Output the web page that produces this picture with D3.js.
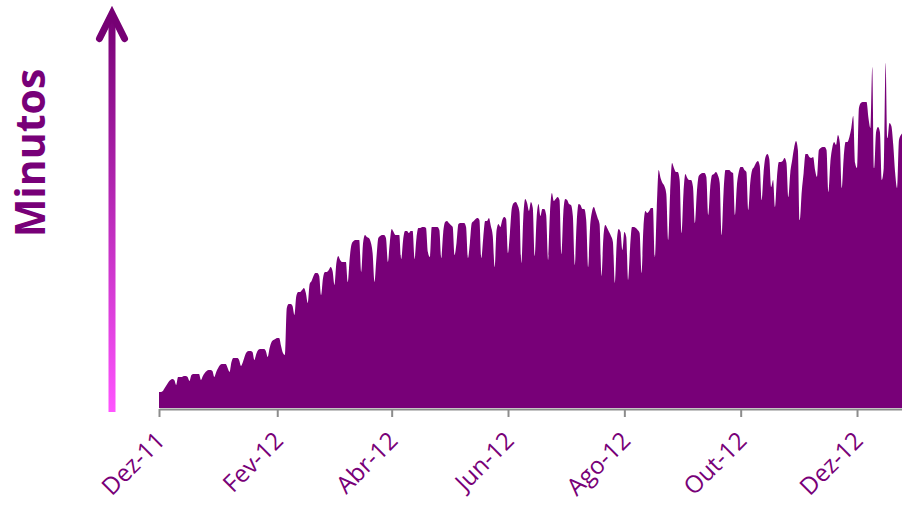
<!DOCTYPE html>
<html>
<head>
<meta charset="utf-8">
<script src="https://cdn.jsdelivr.net/npm/d3@7"></script>
<style>
  html, body { margin: 0; padding: 0; background: #fff; }
  svg { display: block; }
</style>
</head>
<body>
<div id="chart"></div>
<script>
// daily minutes, starting Thu 1 Dec 2011 (rows of 7 days)
var startDate = Date.UTC(2011, 11, 1);
var minutes = [
   16,  16,  17,  20,  23,  26,  28,
   29,  28,  23,  31,  31,  31,  32,
   32,  31,  27,  33,  34,  34,  34,
   34,  28,  32,  35,  37,  38,  38,
   37,  31,  36,  40,  43,  44,  44,
   44,  40,  36,  46,  50,  50,  50,
   48,  42,  46,  52,  56,  57,  57,
   56,  48,  54,  58,  59,  59,  59,
   57,  51,  60,  66,  68,  69,  70,
   70,  62,  55,  53, 100, 104, 104,
  102,  93, 112, 116, 116, 118, 120,
  115, 105, 124, 127, 132, 135, 135,
  132, 113, 130, 136, 136, 138, 141,
  137, 123, 145, 152, 148, 146, 146,
  146, 126, 150, 164, 167, 168, 168,
  168, 136, 165, 173, 171, 170, 166,
  155, 126, 150, 170, 172, 173, 173,
  170, 146, 165, 179, 176, 173, 173,
  173, 149, 168, 177, 177, 175, 177,
  177, 149, 170, 180, 180, 181, 181,
  180, 156, 151, 181, 181, 181, 181,
  178, 150, 175, 186, 187, 185, 183,
  181, 153, 165, 184, 185, 185, 185,
  181, 150, 165, 185, 187, 189, 190,
  188, 150, 170, 187, 187, 190, 182,
  172, 141, 178, 184, 181, 188, 191,
  189, 155, 175, 200, 205, 206, 203,
  196, 145, 190, 209, 205, 197, 206,
  200, 152, 190, 204, 192, 199, 199,
  193, 148, 195, 215, 207, 209, 211,
  208, 154, 195, 209, 208, 204, 203,
  192, 143, 185, 204, 203, 199, 199,
  188, 141, 180, 196, 201, 196, 190,
  184, 132, 170, 183, 180, 176, 172,
  166, 125, 165, 179, 176, 158, 176,
  171, 128, 160, 181, 181, 180, 178,
  175, 135, 180, 197, 195, 197, 200,
  200, 151, 200, 238, 230, 225, 222,
  214, 168, 215, 245, 240, 236, 236,
  228, 175, 215, 234, 230, 228, 228,
  221, 185, 215, 232, 234, 235, 235,
  231, 193, 220, 233, 234, 236, 233,
  225, 173, 215, 238, 238, 238, 236,
  235, 193, 222, 236, 241, 241, 238,
  236, 198, 225, 238, 241, 245, 247,
  242, 208, 235, 251, 254, 249, 221,
  228, 201, 230, 246, 246, 247, 250,
  245, 211, 235, 248, 260, 267, 258,
  188, 216, 235, 254, 254, 251, 250,
  251, 238, 231, 258, 260, 261, 261,
  258, 216, 245, 260, 266, 263, 273,
  265, 220, 250, 266, 266, 271, 280,
  292, 245, 240, 300, 305, 306, 306,
  306, 290, 280, 341, 240, 276, 281,
  276, 228, 240, 345, 270, 285, 282,
  263, 235, 220, 268, 273, 275, 275
];

var tickDates = [
  Date.UTC(2011, 11, 1), Date.UTC(2012, 1, 1), Date.UTC(2012, 3, 1),
  Date.UTC(2012, 5, 1), Date.UTC(2012, 7, 1), Date.UTC(2012, 9, 1),
  Date.UTC(2012, 11, 1)
];
var tickLabels = ["Dez-11", "Fev-12", "Abr-12", "Jun-12", "Ago-12", "Out-12", "Dez-12"];
var yTitle = "Minutos";

var width = 902, height = 505;
var purple = "#780078";
var axisGrey = "#8c8c8c";

var data = minutes.map(function(v, i){
  return {date: d3.utcDay.offset(new Date(startDate), i), value: v};
});

var svg = d3.select("#chart").append("svg")
  .attr("width", width)
  .attr("height", height);

// x runs a little past the window, like the original
var x = d3.scaleUtc()
  .domain([new Date(Date.UTC(2011, 11, 1)), new Date(Date.UTC(2012, 11, 26))])
  .range([159, 904.7]);

var y = d3.scaleLinear()
  .domain([0, 350])
  .range([408, 58]);

var area = d3.area()
  .x(function(d){ return x(d.date); })
  .y0(y(0))
  .y1(function(d){ return y(d.value); })
  .curve(d3.curveMonotoneX);

svg.append("path")
  .datum(data)
  .attr("d", area)
  .attr("fill", purple);

// x axis
var xAxis = d3.axisBottom(x)
  .tickValues(tickDates.map(function(t){ return new Date(t); }))
  .tickFormat(function(d, i){ return tickLabels[i]; })
  .tickSize(8)
  .tickSizeOuter(0);

var gx = svg.append("g")
  .attr("transform", "translate(0,409)")
  .call(xAxis);

gx.select(".domain").attr("stroke", axisGrey).attr("stroke-width", 2);
gx.selectAll(".tick line").attr("stroke", axisGrey).attr("stroke-width", 2);
gx.selectAll(".tick text")
  .attr("x", 0).attr("y", 0).attr("dy", 0)
  .attr("transform", "translate(7,33) rotate(-45)")
  .attr("text-anchor", "end")
  .attr("fill", purple)
  .style("font-family", "'Open Sans', sans-serif")
  .style("font-size", "24px");

// y "axis": gradient arrow
var defs = svg.append("defs");
var grad = defs.append("linearGradient")
  .attr("id", "arrowGrad")
  .attr("gradientUnits", "userSpaceOnUse")
  .attr("x1", 0).attr("y1", 412)
  .attr("x2", 0).attr("y2", 14);
grad.append("stop").attr("offset", "0%").attr("stop-color", "#ff55ff");
grad.append("stop").attr("offset", "100%").attr("stop-color", "#760074");

svg.append("line")
  .attr("x1", 112).attr("y1", 412)
  .attr("x2", 112).attr("y2", 16)
  .attr("stroke", "url(#arrowGrad)")
  .attr("stroke-width", 7);

svg.append("path")
  .attr("d", "M99.5,38.5L112,13.5L124.5,38.5")
  .attr("fill", "none")
  .attr("stroke", "#760074")
  .attr("stroke-width", 7)
  .attr("stroke-linecap", "round")
  .attr("stroke-linejoin", "miter");

svg.append("text")
  .attr("transform", "translate(45,153) rotate(-90)")
  .attr("text-anchor", "middle")
  .attr("fill", purple)
  .style("font-family", "'Open Sans', sans-serif")
  .style("font-weight", "bold")
  .style("font-size", "41px")
  .text(yTitle);
</script>
</body>
</html>
